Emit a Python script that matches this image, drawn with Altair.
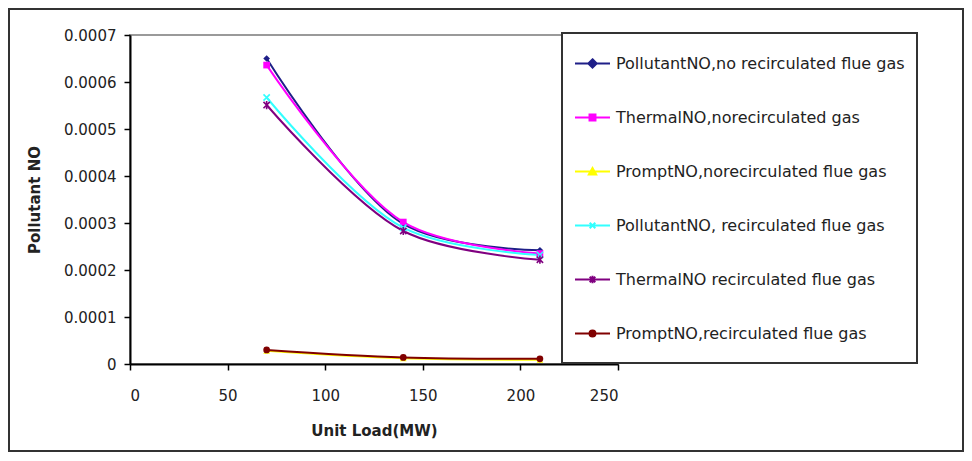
import altair as alt
import pandas as pd

# ---- data ----
LOAD = [70, 140, 210]
SERIES = [
    "PollutantNO,no recirculated flue gas",
    "ThermalNO,norecirculated gas",
    "PromptNO,norecirculated flue gas",
    "PollutantNO, recirculated flue gas",
    "ThermalNO recirculated flue gas",
    "PromptNO,recirculated flue gas",
]
POLLUTANT_NO_NOREC = [0.000650, 0.000298, 0.000242]
THERMAL_NO_NOREC = [0.000636, 0.000302, 0.000235]
PROMPT_NO_NOREC = [0.000028, 0.000012, 0.000009]
POLLUTANT_NO_REC = [0.000567, 0.000290, 0.000232]
THERMAL_NO_REC = [0.000551, 0.000283, 0.000222]
PROMPT_NO_REC = [0.000030, 0.000014, 0.000011]
VALUES = [POLLUTANT_NO_NOREC, THERMAL_NO_NOREC, PROMPT_NO_NOREC,
          POLLUTANT_NO_REC, THERMAL_NO_REC, PROMPT_NO_REC]
X_TICKS = [0, 50, 100, 150, 200, 250]
Y_TICKS = [0, 0.0001, 0.0002, 0.0003, 0.0004, 0.0005, 0.0006, 0.0007]

# ---- styles ----
COLORS = ["#1f1f88", "#ff00ff", "#ffff00", "#33ffff", "#800080", "#800000"]
# plot markers: (shape, filled)
MARKERS = [
    ("diamond", True),
    ("square", True),
    ("triangle-up", True),
    ("M-1,-1L1,1M-1,1L1,-1", False),
    ("M-1,-1L1,1M-1,1L1,-1M0,-1.3V1.3", False),
    ("circle", True),
]
LEGEND_PATHS = [
    "M-1,0H1M0,-0.24L0.24,0L0,0.24L-0.24,0Z",
    "M-1,0H1M-0.17,-0.17H0.17V0.17H-0.17Z",
    "M-1,0H1M0,-0.2L0.21,0.17H-0.21Z",
    "M-1,0H1M-0.16,-0.16L0.16,0.16M-0.16,0.16L0.16,-0.16",
    "M-1,0H1M-0.16,-0.16L0.16,0.16M-0.16,0.16L0.16,-0.16M0,-0.22V0.22",
    "M-1,0H1M0.17,0A0.17,0.17,0,1,1,-0.17,0A0.17,0.17,0,1,1,0.17,0Z",
]

rows = []
for name, vals in zip(SERIES, VALUES):
    for x, v in zip(LOAD, vals):
        rows.append({"series": name, "load": x, "no": v})
df = pd.DataFrame(rows)

FONT = "DejaVu Sans"
W, H = 488, 329
LEG_TITLE = " "

x_enc = alt.X("load:Q", scale=alt.Scale(domain=[0, 250], nice=False),
              axis=alt.Axis(values=X_TICKS, title="Unit Load(MW)"))
y_enc = alt.Y("no:Q", scale=alt.Scale(domain=[0, 0.0007], nice=False),
              axis=alt.Axis(values=Y_TICKS, format="~g", title="Pollutant NO"))

color_scale = alt.Scale(domain=SERIES, range=COLORS)
stroke_enc = alt.Stroke("series:N", scale=color_scale, title=LEG_TITLE)
fill_enc = alt.Fill("series:N", scale=color_scale, title=LEG_TITLE)

base = alt.Chart(df)

frame = alt.Chart(pd.DataFrame({"a": [0]})).mark_rect(
    fill="transparent", stroke="#333333", strokeWidth=2
).encode(x=alt.value(-121), x2=alt.value(833), y=alt.value(-26), y2=alt.value(416))

lines = base.mark_line(interpolate="catmull-rom", strokeWidth=2).encode(
    x=x_enc, y=y_enc, stroke=stroke_enc, detail="series:N"
)

marker_layers = []
for name, (shape, filled) in zip(SERIES, MARKERS):
    m = base.transform_filter(alt.datum.series == name)
    if filled:
        m = m.mark_point(shape=shape, filled=True, size=45, opacity=1,
                         strokeWidth=0).encode(x=x_enc, y=y_enc, fill=fill_enc)
    else:
        m = m.mark_point(shape=shape, filled=False, size=40, opacity=1,
                         strokeWidth=1.6).encode(x=x_enc, y=y_enc, stroke=stroke_enc)
    marker_layers.append(m)

legend_layer = base.transform_filter("false").mark_point(
    filled=True, opacity=1, strokeWidth=2
).encode(
    x=x_enc, y=y_enc,
    fill=fill_enc,
    stroke=stroke_enc,
    shape=alt.Shape("series:N", scale=alt.Scale(domain=SERIES, range=LEGEND_PATHS),
                    title=LEG_TITLE),
)

chart = alt.layer(frame, lines, *marker_layers, legend_layer).properties(
    width=W, height=H,
    autosize=alt.AutoSizeParams(type="none"),
    padding={"left": 122, "top": 27, "right": 346, "bottom": 89},
    background="white",
).configure_view(
    stroke="#9a9a9a", strokeWidth=2
).configure_axis(
    grid=False,
    domainColor="black", domainWidth=2,
    tickColor="black", tickWidth=1.5, tickSize=6,
    labelFont=FONT, labelFontSize=15, labelColor="#222222",
    titleFont=FONT, titleFontSize=15, titleFontWeight="bold", titleColor="#222222",
).configure_axisX(
    labelPadding=18, titlePadding=20,
).configure_axisY(
    labelPadding=8, titlePadding=21,
).configure_legend(
    orient="none", legendX=432, legendY=-2,
    strokeColor="#333333", strokeWidth=2, fillColor="white",
    padding=12, rowPadding=27, labelOffset=5,
    symbolSize=1225, symbolStrokeWidth=2, symbolOpacity=1,
    labelFont=FONT, labelFontSize=16, labelColor="#222222", labelLimit=400,
    titleOrient="bottom", titleFontSize=2, titlePadding=7,
)

chart.save("out.html", embed_options={"renderer": "svg", "actions": False})
